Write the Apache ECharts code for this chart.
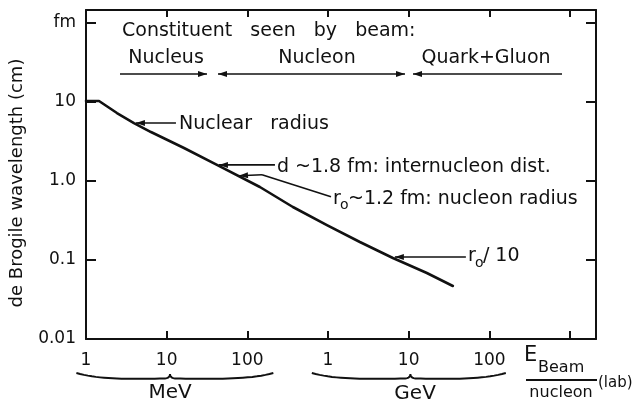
<!DOCTYPE html>
<html><head><meta charset="utf-8">
<script src="https://cdn.jsdelivr.net/npm/echarts@6/dist/echarts.min.js"></script>
<style>html,body{margin:0;padding:0;background:#fff}#c{width:641px;height:405px}</style>
</head><body><div id="c"></div>
<script>
// ---- data ----
const energyMeV = [1, 1.45, 2.42, 3.93, 6.39, 16.4, 42.0, 143, 367, 969, 2484, 6370, 16800, 35300];
const wavelengthFm = [10.3, 10.3, 7.26, 5.42, 4.17, 2.62, 1.60, 0.84, 0.469, 0.277, 0.169, 0.106, 0.0684, 0.0469];
const xTickLabels = ['1', '10', '100', '1', '10', '100', ''];   // exponents 0..6 (MeV)
const yTickLabels = ['0.01', '0.1', '1.0', '10', 'fm'];       // exponents -2..2 (fm)
const regionLabels = ['Nucleus', 'Nucleon', 'Quark+Gluon'];
const unitLabels = ['MeV', 'GeV'];

const INK = '#111';
const FONT = '"DejaVu Sans", sans-serif';
const chart = echarts.init(document.getElementById('c'), null, {renderer: 'canvas'});

const logLabel = (arr, offset) => v => {
  const e = Math.log10(v);
  const r = Math.round(e);
  if (Math.abs(e - r) > 1e-6) return '';
  return arr[r - offset] ?? '';
};

chart.setOption({
  animation: false,
  backgroundColor: '#fff',
  grid: {left: 86, right: 45, top: 10, bottom: 66, containLabel: false, outerBoundsMode: 'none'},
  xAxis: [{
    type: 'log', logBase: 10, min: 1, max: Math.pow(10, 6.322), interval: 1,
    axisLine: {show: true, lineStyle: {color: INK, width: 2}},
    axisTick: {show: true, inside: true, length: 8, lineStyle: {color: INK, width: 2}},
    axisLabel: {show: true, margin: 13, color: INK, fontFamily: FONT, fontSize: 17,
      showMaxLabel: false, formatter: logLabel(xTickLabels, 0)},
    splitLine: {show: false}, minorTick: {show: false}
  }, {
    type: 'log', logBase: 10, min: 1, max: Math.pow(10, 6.322), interval: 1, position: 'top',
    axisLine: {show: true, lineStyle: {color: INK, width: 2}},
    axisTick: {show: true, inside: true, length: 7, lineStyle: {color: INK, width: 2}},
    axisLabel: {show: false}, splitLine: {show: false}
  }],
  yAxis: [{
    type: 'log', logBase: 10, min: 0.01, max: Math.pow(10, 2.165), interval: 1,
    axisLine: {show: true, lineStyle: {color: INK, width: 2}},
    axisTick: {show: true, inside: true, length: 10, lineStyle: {color: INK, width: 2}},
    axisLabel: {show: true, margin: 10, color: INK, fontFamily: FONT, fontSize: 17,
      showMaxLabel: false, formatter: logLabel(yTickLabels, -2)},
    splitLine: {show: false}
  }, {
    type: 'log', logBase: 10, min: 0.01, max: Math.pow(10, 2.165), interval: 1, position: 'right',
    axisLine: {show: true, lineStyle: {color: INK, width: 2}},
    axisTick: {show: true, inside: true, length: 10, lineStyle: {color: INK, width: 2}},
    axisLabel: {show: false}, splitLine: {show: false}
  }],
  series: [{
    type: 'line', xAxisIndex: 0, yAxisIndex: 0,
    data: energyMeV.map((e, i) => [e, wavelengthFm[i]]),
    smooth: false, showSymbol: false, symbol: 'none',
    lineStyle: {color: INK, width: 2.6, join: 'round', cap: 'round'}
  }]
});

// ---- annotations (positioned from the axes) ----
const px = (x, y) => chart.convertToPixel({gridIndex: 0}, [x, y]);
const pt = i => px(energyMeV[i], wavelengthFm[i]);
const G = [];
const txt = (x, y, s, o = {}) => G.push({type: 'text', x, y, silent: true, rotation: o.rot || 0,
  style: {text: s, fill: INK, font: `${o.size || 19}px ${FONT}`, align: o.align || 'left', verticalAlign: 'middle'}});
const seg = (x1, y1, x2, y2, w = 1.6) => G.push({type: 'line', silent: true,
  shape: {x1, y1, x2, y2}, style: {stroke: INK, lineWidth: w}});
const head = (tx, ty, fx, fy) => {
  const d = Math.hypot(tx - fx, ty - fy), ux = (tx - fx) / d, uy = (ty - fy) / d, L = 9, W = 3;
  G.push({type: 'polygon', silent: true, shape: {points: [[tx, ty],
    [tx - ux * L - uy * W, ty - uy * L + ux * W], [tx - ux * L + uy * W, ty - uy * L - ux * W]]},
    style: {fill: INK}});
};
const arrow = (x1, y1, x2, y2, hs, he) => { seg(x1, y1, x2, y2); if (hs) head(x1, y1, x2, y2); if (he) head(x2, y2, x1, y1); };

// header
txt(122, 31, 'Constituent   seen   by   beam:');
const hy = 58, ay = 74;
txt(166, hy, regionLabels[0], {align: 'center'});
txt(317, hy, regionLabels[1], {align: 'center'});
txt(486, hy, regionLabels[2], {align: 'center'});
arrow(120, ay, 207, ay, false, true);
arrow(218, ay, 405, ay, true, true);
arrow(413, ay, 562, ay, true, false);

// Nuclear radius
let p = pt(3);
arrow(p[0] + 2, p[1], p[0] + 42, p[1], true, false);
txt(p[0] + 45, p[1] + 1, 'Nuclear   radius');
// d ~1.8 fm
p = pt(6);
arrow(p[0] + 2, p[1], p[0] + 58, p[1], true, false);
txt(p[0] + 60, p[1] + 2, 'd ~1.8 fm: internucleon dist.');
// r0 ~1.2 fm
const a = pt(6), b = pt(7), t = 0.49;
p = [a[0] + (b[0] - a[0]) * t, a[1] + (b[1] - a[1]) * t];
head(p[0] + 1, p[1], p[0] + 20, p[1] - 1);
seg(p[0] + 1, p[1], p[0] + 24, p[1] - 1);
seg(p[0] + 24, p[1] - 1, p[0] + 93, p[1] + 21);
txt(p[0] + 95, p[1] + 23, 'r');
txt(p[0] + 102, p[1] + 30, 'o', {size: 14});
txt(p[0] + 110, p[1] + 23, '~1.2 fm: nucleon radius');
// r0/10
p = pt(11);
arrow(p[0] + 2, p[1] - 1, p[0] + 73, p[1] - 1, true, false);
txt(p[0] + 75, p[1] - 2, 'r');
txt(p[0] + 82, p[1] + 5, 'o', {size: 14});
txt(p[0] + 90, p[1] - 2, '/ 10');

// y-axis title
txt(17, 183, 'de Brogile wavelength (cm)', {rot: Math.PI / 2, align: 'center', size: 18});

// braces under the x axis (sampled cubic pieces -> polyline)
const cubic = (p0, p1, p2, p3, n) => {
  const out = [];
  for (let i = 0; i <= n; i++) {
    const s = i / n, r = 1 - s;
    out.push([r*r*r*p0[0] + 3*r*r*s*p1[0] + 3*r*s*s*p2[0] + s*s*s*p3[0],
              r*r*r*p0[1] + 3*r*r*s*p1[1] + 3*r*s*s*p2[1] + s*s*s*p3[1]]);
  }
  return out;
};
const brace = (x0, xc, x1, y0) => {
  const d = 6;
  const left = cubic([x0, y0], [x0 + 25, y0 + d + 1], [xc - 40, y0 + d], [xc - 5, y0 + d - 0.5], 20);
  const cusp = cubic([xc - 5, y0 + d - 0.5], [xc - 1, y0 + d - 1], [xc, y0 + 3], [xc, y0 + 1], 6);
  const cusp2 = cubic([xc, y0 + 1], [xc, y0 + 3], [xc + 1, y0 + d - 1], [xc + 5, y0 + d - 0.5], 6);
  const right = cubic([xc + 5, y0 + d - 0.5], [xc + 40, y0 + d], [x1 - 25, y0 + d + 1], [x1, y0], 20);
  G.push({type: 'polyline', silent: true, shape: {points: left.concat(cusp, cusp2, right)},
    style: {stroke: INK, lineWidth: 2, fill: null}});
};
const bx = v => px(v, 1)[0];
brace(bx(0.76), bx(11), bx(210), 373);
brace(bx(630), bx(10500), bx(160000), 373);
txt(bx(11), 393, unitLabels[0], {align: 'center', size: 20});
txt(bx(12000), 394, unitLabels[1], {align: 'center', size: 20});

// E_Beam / nucleon (lab)
txt(524, 356, 'E', {size: 21});
txt(538, 368, 'Beam', {size: 16});
seg(526, 380, 597, 380, 1.8);
txt(561, 393, 'nucleon', {align: 'center', size: 16});
txt(598, 383, '(lab)', {size: 15});

chart.setOption({graphic: {elements: G}});
</script>
</body></html>
